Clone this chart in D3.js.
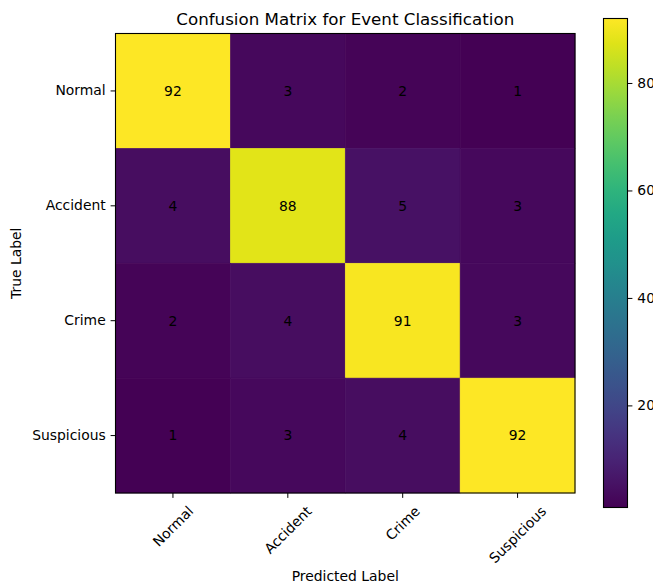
<!DOCTYPE html>
<html>
<head>
<meta charset="utf-8">
<script src="https://cdn.jsdelivr.net/npm/d3@7"></script>
<style>
  body { margin: 0; background: #fff; }
  svg { display: block; font-family: "DejaVu Sans", sans-serif; }
</style>
</head>
<body>
<div id="chart"></div>
<script>
// Confusion matrix data
const trueLabels = ['Normal', 'Accident', 'Crime', 'Suspicious'];
const predLabels = ['Normal', 'Accident', 'Crime', 'Suspicious'];
const matrix = [
    [92, 3, 2, 1],
    [4, 88, 5, 3],
    [2, 4, 91, 3],
    [1, 3, 4, 92]
];
const colorbarTicks = [20, 40, 60, 80];

const W = 653, H = 584;
const plot = { left: 115.5, top: 33.5, size: 459.5 };
const cbar = { left: 603.5, top: 18.5, width: 24, height: 489 };
const tickLen = 4.9, tickPad = 4.9;
const fontSize = 13.9;

const svg = d3.select('#chart').append('svg')
    .attr('width', W)
    .attr('height', H);

const flat = matrix.flat();
const vmin = d3.min(flat), vmax = d3.max(flat);
const color = d3.scaleSequential(d3.interpolateViridis).domain([vmin, vmax]);

const x = d3.scaleBand().domain(predLabels).range([plot.left, plot.left + plot.size]);
const y = d3.scaleBand().domain(trueLabels).range([plot.top, plot.top + plot.size]);

// Cells
const cells = [];
matrix.forEach((row, i) => row.forEach((v, j) => cells.push({ t: trueLabels[i], p: predLabels[j], v })));

svg.append('g').selectAll('rect')
    .data(cells)
    .enter().append('rect')
    .attr('x', d => x(d.p))
    .attr('y', d => y(d.t))
    .attr('width', x.bandwidth())
    .attr('height', y.bandwidth())
    .attr('fill', d => color(d.v))
    .attr('stroke', d => color(d.v))
    .attr('stroke-width', 0.6);

svg.append('g').selectAll('text')
    .data(cells)
    .enter().append('text')
    .attr('x', d => x(d.p) + x.bandwidth() / 2)
    .attr('y', d => y(d.t) + y.bandwidth() / 2)
    .attr('dy', '0.35em')
    .attr('text-anchor', 'middle')
    .style('font-size', fontSize + 'px')
    .style('fill', '#000')
    .text(d => d.v);

// Frame
svg.append('rect')
    .attr('x', plot.left).attr('y', plot.top)
    .attr('width', plot.size).attr('height', plot.size)
    .attr('fill', 'none').attr('stroke', '#000').attr('stroke-width', 1.1);

// Helper: strip d3's default axis font so the svg font applies
function styleAxis(g) {
    g.attr('font-family', null).attr('font-size', null);
    g.select('.domain').remove();
    g.selectAll('line').attr('stroke', '#000');
    g.selectAll('text').style('font-size', fontSize + 'px').style('fill', '#000');
}

// Y axis
const yAxis = d3.axisLeft(y).tickSize(tickLen).tickPadding(tickPad);
const yg = svg.append('g')
    .attr('transform', `translate(${plot.left},0)`)
    .call(yAxis);
styleAxis(yg);

// X axis with rotated labels (matplotlib ha=center, rotation=45)
const xAxis = d3.axisBottom(x).tickSize(tickLen).tickPadding(tickPad);
const xg = svg.append('g')
    .attr('transform', `translate(0,${plot.top + plot.size})`)
    .call(xAxis);
styleAxis(xg);
xg.selectAll('text')
    .attr('dy', null)
    .attr('y', null)
    .each(function () {
        const t = d3.select(this);
        const w = this.getComputedTextLength();
        const h = fontSize * 1.17;
        const bh = (w + h) * Math.SQRT1_2;
        const cy = tickLen + tickPad + bh / 2;
        t.attr('text-anchor', 'middle')
         .attr('dominant-baseline', 'central')
         .attr('transform', `translate(0,${cy}) rotate(-45)`);
    });

// Axis labels
svg.append('text')
    .attr('x', plot.left + plot.size / 2)
    .attr('y', 581)
    .attr('text-anchor', 'middle')
    .style('font-size', fontSize + 'px')
    .text('Predicted Label');

svg.append('text')
    .attr('transform', `translate(21,${plot.top + plot.size / 2}) rotate(-90)`)
    .attr('text-anchor', 'middle')
    .style('font-size', fontSize + 'px')
    .text('True Label');

// Title
svg.append('text')
    .attr('x', plot.left + plot.size / 2)
    .attr('y', 25)
    .attr('text-anchor', 'middle')
    .style('font-size', '16.7px')
    .text('Confusion Matrix for Event Classification');

// Colorbar
const defs = svg.append('defs');
const grad = defs.append('linearGradient')
    .attr('id', 'cbar-gradient')
    .attr('x1', 0).attr('y1', 1)
    .attr('x2', 0).attr('y2', 0);
d3.range(0, 1.0001, 0.05).forEach(t => {
    grad.append('stop')
        .attr('offset', (t * 100) + '%')
        .attr('stop-color', d3.interpolateViridis(t));
});

const cy = d3.scaleLinear().domain([vmin, vmax]).range([cbar.top + cbar.height, cbar.top]);

svg.append('rect')
    .attr('x', cbar.left).attr('y', cbar.top)
    .attr('width', cbar.width).attr('height', cbar.height)
    .attr('fill', 'url(#cbar-gradient)')
    .attr('stroke', '#000').attr('stroke-width', 1.1);

const cAxis = d3.axisRight(cy).tickValues(colorbarTicks).tickSize(tickLen).tickPadding(tickPad);
const cg = svg.append('g')
    .attr('transform', `translate(${cbar.left + cbar.width},0)`)
    .call(cAxis);
styleAxis(cg);
</script>
</body>
</html>
